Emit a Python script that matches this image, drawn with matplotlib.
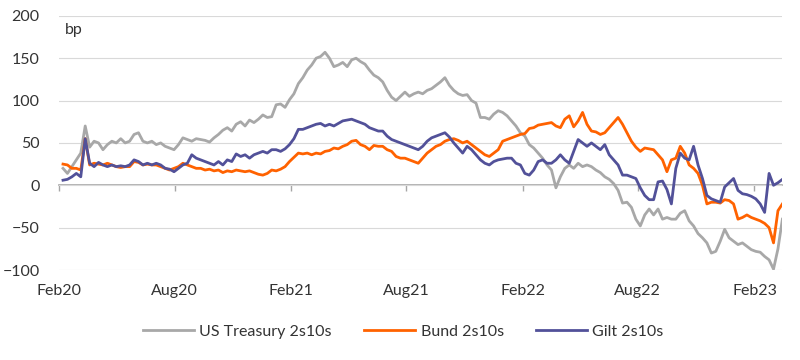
import pandas as pd
import matplotlib
matplotlib.use('Agg')
import matplotlib.pyplot as plt
import matplotlib.dates as mdates

plt.rcParams['font.family'] = ['Lato', 'DejaVu Sans']

# weekly readings (Fridays), Feb 2020 - Mar 2023, in bp
ust = [20, 14, 22, 30, 38, 70, 45, 52, 50, 42,
       48, 52, 50, 55, 50, 52, 60, 62, 52, 50,
       52, 48, 50, 46, 44, 42, 48, 56, 54, 52,
       55, 54, 53, 51, 56, 60, 65, 68, 64, 72,
       75, 70, 77, 74, 78, 83, 80, 81, 95, 96,
       92, 101, 108, 120, 127, 136, 142, 150, 152, 157,
       150, 140, 142, 145, 140, 148, 150, 146, 143, 136,
       130, 127, 122, 112, 104, 100, 105, 110, 105, 108,
       110, 108, 112, 114, 118, 122, 127, 118, 112, 108,
       106, 107, 100, 97, 80, 80, 78, 84, 88, 86,
       82, 76, 70, 62, 58, 48, 44, 38, 32, 24,
       18, -3, 10, 20, 24, 20, 26, 22, 24, 22,
       18, 15, 10, 7, 2, -6, -21, -20, -26, -40,
       -48, -35, -28, -35, -28, -40, -38, -40, -40, -33,
       -30, -42, -48, -57, -62, -68, -80, -78, -66, -52,
       -62, -66, -70, -68, -72, -76, -78, -79, -84, -88,
       -99, -75, -40]

bund = [25, 24, 20, 20, 18, 55, 24, 26, 25, 24,
        26, 24, 22, 21, 22, 22, 28, 27, 24, 25,
        24, 24, 22, 20, 18, 20, 22, 26, 24, 22,
        20, 20, 18, 19, 17, 18, 15, 17, 16, 18,
        17, 16, 17, 15, 13, 12, 14, 18, 17, 19,
        22, 28, 33, 38, 37, 38, 36, 38, 37, 40,
        41, 44, 43, 46, 48, 52, 53, 48, 46, 42,
        47, 46, 46, 42, 40, 34, 32, 32, 30, 28,
        26, 32, 38, 42, 46, 48, 52, 54, 55, 53,
        50, 52, 48, 44, 40, 36, 34, 38, 42, 52,
        54, 56, 58, 60, 61, 67, 68, 71, 72, 73,
        74, 70, 68, 78, 82, 69, 76, 86, 72, 64,
        63, 60, 62, 68, 74, 80, 72, 62, 52, 45,
        40, 44, 43, 42, 36, 30, 16, 30, 32, 46,
        38, 24, 20, 14, 0, -22, -20, -20, -21, -17,
        -18, -22, -40, -38, -35, -38, -40, -42, -45, -50,
        -68, -30, -22]

gilt = [6, 7, 10, 14, 10, 55, 26, 22, 27, 24,
        22, 24, 22, 23, 22, 24, 30, 28, 24, 26,
        24, 26, 24, 20, 19, 16, 20, 24, 26, 36,
        32, 30, 28, 26, 24, 28, 24, 30, 28, 37,
        34, 36, 32, 36, 38, 40, 38, 42, 42, 40,
        43, 48, 55, 66, 66, 68, 70, 72, 73, 70,
        72, 70, 73, 76, 77, 78, 76, 74, 72, 68,
        66, 64, 64, 58, 54, 52, 50, 48, 46, 44,
        42, 46, 52, 56, 58, 60, 62, 57, 50, 44,
        38, 46, 42, 36, 30, 26, 24, 28, 30, 31,
        32, 32, 26, 24, 14, 12, 18, 28, 30, 26,
        26, 30, 36, 30, 26, 40, 54, 50, 46, 50,
        46, 42, 48, 36, 30, 24, 12, 12, 10, 8,
        -3, -12, -17, -17, 4, 5, -5, -22, 20, 38,
        32, 30, 46, 24, 8, -12, -16, -18, -20, -2,
        3, 8, -6, -10, -11, -13, -16, -22, -32, 14,
        0, 3, 7]

dates = pd.date_range('2020-02-07', periods=len(ust), freq='W-FRI')

names = ['US Treasury 2s10s', 'Bund 2s10s', 'Gilt 2s10s']
colors = ['#A8A8A8', '#FF6200', '#525199']

fig = plt.figure(figsize=(8, 3.6), dpi=100)
ax = fig.add_axes([0.074, 0.25, 0.904, 0.706])

for vals, name, c in zip([ust, bund, gilt], names, colors):
    ax.plot(dates, vals, color=c, lw=2, label=name, solid_joinstyle='round')

ax.set_ylim(-100, 200)
ax.set_yticks(range(-100, 201, 50))
ax.set_xlim(pd.Timestamp('2020-02-01'), pd.Timestamp('2023-03-17'))

# horizontal gridlines, zero line drawn separately
ax.grid(axis='y', color='#D9D9D9', lw=0.8)
ax.set_axisbelow(True)
for s in ax.spines.values():
    s.set_visible(False)

ticks = pd.date_range('2020-02-01', '2023-02-01', freq='6MS')
ax.set_xticks(ticks)
ax.xaxis.set_major_formatter(mdates.DateFormatter('%b%y'))
ax.tick_params(axis='x', length=0, pad=10, labelsize=11.5, labelcolor='#333333')
ax.tick_params(axis='y', length=0, pad=14, labelsize=11.5, labelcolor='#333333')

# axis line at zero with small downward ticks (labels stay at the bottom)
sec = ax.secondary_xaxis(1 / 3)
sec.set_xticks(ticks)
sec.tick_params(axis='x', length=4, width=1, color='#A6A6A6', labelbottom=False, direction='out')
sec.spines['bottom'].set_color('#A6A6A6')
sec.spines['bottom'].set_linewidth(1.2)

ax.text(0.008, 0.945, 'bp', transform=ax.transAxes, fontsize=11.5, color='#333333', va='center')

fig.legend(loc='center', bbox_to_anchor=(0.504, 0.078), ncol=3, frameon=False,
           fontsize=11.5, handlelength=3.2, handletextpad=0.35, columnspacing=2.0,
           labelcolor='#333333')

fig.savefig('out.png', dpi=100)
